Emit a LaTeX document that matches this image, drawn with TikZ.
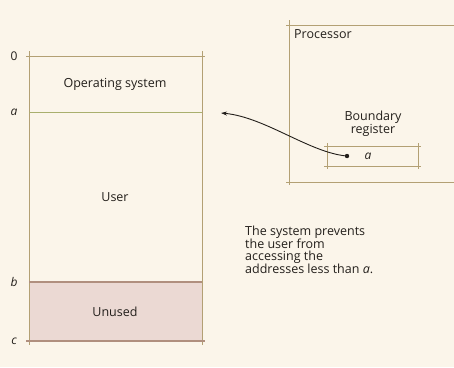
\documentclass[tikz,border=0pt]{standalone}
\usepackage{fontspec}
\setmainfont{Open Sans}
\usetikzlibrary{arrows.meta}
\definecolor{paper}{HTML}{FBF5EA}
\definecolor{rule}{HTML}{B3A074}
\definecolor{arule}{HTML}{A9AF6E}
\definecolor{unusedfill}{HTML}{EBD9D3}
\definecolor{unusededge}{HTML}{B08F7E}
\definecolor{ink}{HTML}{231F1B}
\tikzset{
  frame/.style={draw=rule, line width=1pt},
  lbl/.style={text=ink, font=\fontsize{12.5}{12.6}\selectfont, inner sep=0pt},
  side/.style={text=ink, font=\fontsize{12}{12}\selectfont, inner sep=0pt},
}
\begin{document}
\begin{tikzpicture}[x=1pt,y=-1pt]
\fill[paper] (0,0) rectangle (454,367);
\useasboundingbox (0,0) rectangle (454,367);

% unused region of memory
\fill[unusedfill] (29,282) rectangle (202,341);

% memory column
\draw[frame] (29,51) -- (29,345);
\draw[frame] (202,51) -- (202,345);
\draw[frame] (26,56) -- (205,56);
\draw[draw=arule, line width=1pt] (29,112) -- (202,112);
\draw[draw=unusededge, line width=1.2pt] (29,282) -- (202,282);
\draw[draw=unusededge, line width=1.2pt] (26,341) -- (205,341);

% address marks
\node[side] (m0) at (14,56) {0};
\node[side] (ma) at (14,112) {\itshape a};
\node[side] (mb) at (14,282) {\itshape b};
\node[side] (mc) at (14,341) {\itshape c};

% region names
\node[lbl] (os) at (115,84) {Operating system};
\node[lbl] (user) at (115,197) {User};
\node[lbl] (unused) at (115,312) {Unused};

% processor
\draw[frame] (289,20) -- (289,185);
\draw[frame] (286,25) -- (454,25);
\draw[frame] (286,182) -- (454,182);
\node[lbl, anchor=west] (proc) at (294,34) {Processor};

% boundary register
\node[lbl, align=center] (breg) at (373,124) {Boundary\\register};
\draw[frame] (327,143) -- (327,169);
\draw[frame] (418,143) -- (418,169);
\draw[frame] (324,146) -- (421,146);
\draw[frame] (324,166) -- (421,166);
\node[side] (rega) at (368,156) {\itshape a};
\fill[ink] (347,156) circle (2.2pt);
\coordinate (dot) at (347,156);
\coordinate (tip) at (221,113);
\draw[ink, line width=0.9pt, -{Stealth[length=6pt,width=4pt]}]
  (dot) .. controls (310,153) and (265,117) .. (tip);

% note
\node[lbl, anchor=north west, align=left] (note) at (245,226)
  {The system prevents\\the user from\\accessing the\\addresses less than \textit{a}.};
\end{tikzpicture}
\end{document}
